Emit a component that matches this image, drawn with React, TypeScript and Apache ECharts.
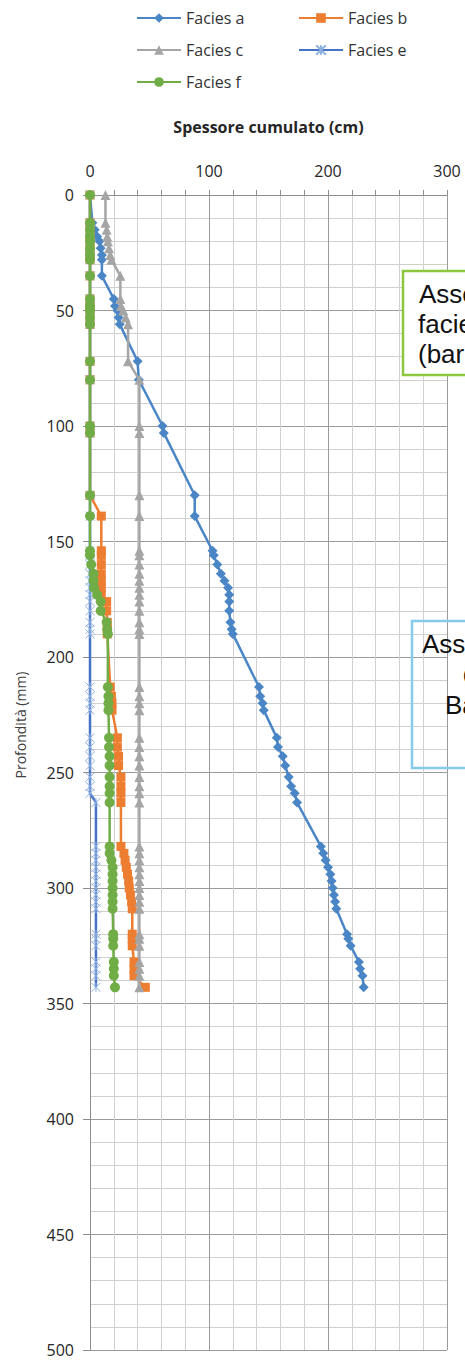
import React, { useEffect, useRef } from "react";
import * as echarts from "echarts";

// Depth rows (mm) shared by all facies
const depths = [
  0, 12, 15, 18, 20, 23, 26, 28, 35,
  45, 48, 50, 53, 56,
  72, 80, 100, 103, 130, 139,
  154, 156, 160, 164, 167, 170, 173, 176, 180, 185, 188, 190,
  213, 217, 220, 223,
  235, 239, 243, 247, 252, 256, 259, 263,
  282, 285, 288, 291, 294, 297, 300, 303, 306, 309,
  320, 322, 325,
  332, 335, 338, 343,
];

// Cumulative thickness (cm)
const faciesA = [
  0, 2, 4, 6, 8, 9, 10, 10, 10,
  20, 21, 23, 24, 25,
  40, 41, 61, 62, 88, 88,
  103, 104, 107, 110, 113, 116, 117, 117, 117, 118, 119, 120,
  142, 143, 145, 146,
  157, 158, 162, 164, 167, 169, 172, 174,
  194, 196, 198, 200, 202, 203, 204, 205, 206, 207,
  216, 217, 219,
  226, 227, 229, 230,
];
const faciesB = [
  0, 0, 0, 0, 0, 0, 0, 0, 0,
  0, 0, 0, 0, 0,
  0, 0, 0, 0, 0, 9.5,
  9.5, 9.5, 9.5, 9.5, 9.5, 9.5, 9.5, 14, 14, 14.5, 14.5, 14.5,
  17, 18, 18.5, 18.5,
  23, 23, 24, 24, 26, 26, 26, 26,
  26, 28.5, 29.5, 30.5, 31.5, 32.5, 33, 34, 35, 35.5,
  35.5, 35.5, 35.5,
  37, 37, 37, 46.5,
];
const faciesC = [
  13, 13, 14, 14.5, 15, 16, 17, 18, 25.5,
  25.5, 26, 28, 30, 32,
  32, 41.5, 41.5, 41.5, 41.5, 41.5,
  41.5, 41.5, 41.5, 41.5, 41.5, 41.5, 41.5, 41.5, 41.5, 41.5, 41.5, 41.5,
  41.5, 41.5, 41.5, 41.5,
  41.5, 41.5, 41.5, 41.5, 41.5, 41.5, 41.5, 41.5,
  41.5, 41.5, 41.5, 41.5, 41.5, 41.5, 41.5, 41.5, 41.5, 41.5,
  41.5, 41.5, 41.5,
  41.5, 41.5, 41.5, 41.5,
];
const faciesE = [
  0, 0, 0, 0, 0, 0, 0, 0, 0,
  0, 0, 0, 0, 0,
  0, 0, 0, 0, 0, 0,
  0, 0, 0, 0, 0, 0, 0, 0, 0, 0, 0, 0,
  0, 0, 0, 0,
  0, 0, 0, 0, 0, 0, 0, 5,
  5, 5, 5, 5, 5, 5, 5, 5, 5, 5,
  5, 5, 5,
  5, 5, 5, 5,
];
const faciesF = [
  0, 0, 0, 0, 0, 0, 0, 0, 0,
  0, 0, 0, 0, 0,
  0, 0, 0, 0, 0, 0,
  0, 0, 1, 3, 3, 3.5, 6, 9, 9, 14, 14.5, 15,
  15, 15.5, 15.5, 15.5,
  16, 16, 16.5, 16.5, 16.5, 16.5, 16.5, 16.5,
  16.5, 16.5, 18, 19, 19, 19, 19, 19, 19, 19,
  19.5, 19.5, 19.5,
  20, 20, 20, 21,
];

const seriesNames = ["Facies a", "Facies b", "Facies c", "Facies e", "Facies f"];
const xTitle = "Spessore cumulato (cm)";
const yTitle = "Profondità (mm)";
const greenBoxLines = ["Associazione di", "facies a e c", "(barre)"];
const blueBoxLines = ["Associazione", "di", "Bacino"];

const FONT = "'Open Sans', 'Noto Sans', sans-serif";
const ARIAL = "'Liberation Sans', Arial, sans-serif";

const STAR = "path://M0,0L10,10M10,0L0,10M5,0L5,10";

export default function App() {
  const ref = useRef<HTMLDivElement>(null);

  useEffect(() => {
    if (!ref.current) return;
    const chart = echarts.init(ref.current, undefined, { renderer: "svg" });

    const toData = (vals: number[]) => vals.map((v, i) => [v, depths[i]]);

    const colors = ["#4A86C6", "#ED7D31", "#A5A5A5", "#4472C4", "#70AD47"];
    const symbols = ["diamond", "rect", "triangle", STAR, "circle"];
    const sizes = [10, 9, 10, 9, 10];
    const values = [faciesA, faciesB, faciesC, faciesE, faciesF];

    const series = seriesNames.map((name, k) => ({
      name,
      type: "line",
      data: toData(values[k]),
      symbol: symbols[k],
      symbolSize: sizes[k],
      showAllSymbol: true,
      lineStyle: { color: colors[k], width: 2.5 },
      itemStyle:
        k === 3
          ? { color: "#4472C4", borderColor: "#8FB1E0", borderWidth: 1 }
          : { color: colors[k] },
      emphasis: { disabled: true },
      z: 2 + k,
    }));

    const legendPos = [
      { left: 136, top: 10 },
      { left: 298, top: 10 },
      { left: 136, top: 42 },
      { left: 298, top: 42 },
      { left: 136, top: 74 },
    ];

    const legends = seriesNames.map((name, k) => ({
      data: [name],
      left: legendPos[k].left,
      top: legendPos[k].top,
      padding: 0,
      itemWidth: 44,
      itemHeight: 12,
      itemGap: 4,
      textStyle: { fontSize: 16, color: "#333333", fontFamily: FONT },
      selectedMode: false,
    }));

    const boxText = (text: string, x: number, baseline: number) => ({
      type: "text",
      x,
      y: baseline - 8,
      style: { text, font: `26px ${ARIAL}`, fill: "#111", verticalAlign: "middle", align: "left" },
      z: 101,
    });

    chart.setOption({
      animation: false,
      legend: legends,
      grid: { left: 90, right: 18, top: 195, bottom: 12, containLabel: false },
      xAxis: {
        type: "value",
        position: "top",
        min: 0,
        max: 300,
        interval: 100,
        name: xTitle,
        nameLocation: "middle",
        nameGap: 60,
        nameTextStyle: { fontWeight: "bold", fontSize: 16, color: "#262626", fontFamily: FONT },
        axisLabel: { fontSize: 16, color: "#262626", margin: 16, fontFamily: FONT },
        axisLine: { show: true, lineStyle: { color: "#8c8c8c", width: 1 } },
        axisTick: { show: true, length: 5, lineStyle: { color: "#8c8c8c" } },
        minorTick: { show: true, splitNumber: 5, length: 5, lineStyle: { color: "#8c8c8c" } },
        splitLine: { show: true, lineStyle: { color: "#9a9a9a", width: 1 } },
        minorSplitLine: { show: true, lineStyle: { color: "#d0d0d0", width: 1 } },
      },
      yAxis: {
        type: "value",
        inverse: true,
        min: 0,
        max: 500,
        interval: 50,
        axisLabel: { fontSize: 16, color: "#262626", margin: 16, fontFamily: FONT },
        axisLine: { show: true, lineStyle: { color: "#8c8c8c", width: 1 } },
        axisTick: { show: true, length: 7, lineStyle: { color: "#8c8c8c" } },
        minorTick: { show: false, splitNumber: 5 },
        splitLine: { show: true, lineStyle: { color: "#9a9a9a", width: 1 } },
        minorSplitLine: { show: true, lineStyle: { color: "#d0d0d0", width: 1 } },
      },
      series,
      graphic: [
        {
          type: "text",
          x: 20,
          y: 725,
          rotation: Math.PI / 2,
          style: { text: yTitle, font: `14px ${FONT}`, fill: "#404040", align: "center", verticalAlign: "middle" },
        },
        {
          type: "rect",
          shape: { x: 403, y: 271, width: 200, height: 104 },
          style: { fill: "#ffffff", stroke: "#8DC63F", lineWidth: 2.5 },
          z: 100,
        },
        boxText(greenBoxLines[0], 419, 302),
        boxText(greenBoxLines[1], 418, 332),
        boxText(greenBoxLines[2], 418, 362),
        {
          type: "rect",
          shape: { x: 412, y: 621, width: 200, height: 147 },
          style: { fill: "none", stroke: "#86CBEA", lineWidth: 2.5 },
          z: 100,
        },
        boxText(blueBoxLines[0], 422, 652),
        boxText(blueBoxLines[1], 463, 682),
        boxText(blueBoxLines[2], 445, 713),
      ],
    });

    return () => chart.dispose();
  }, []);

  return (
    <div
      ref={ref}
      style={{ position: "absolute", left: 0, top: 0, width: 465, height: 1362, background: "#fff" }}
    />
  );
}
